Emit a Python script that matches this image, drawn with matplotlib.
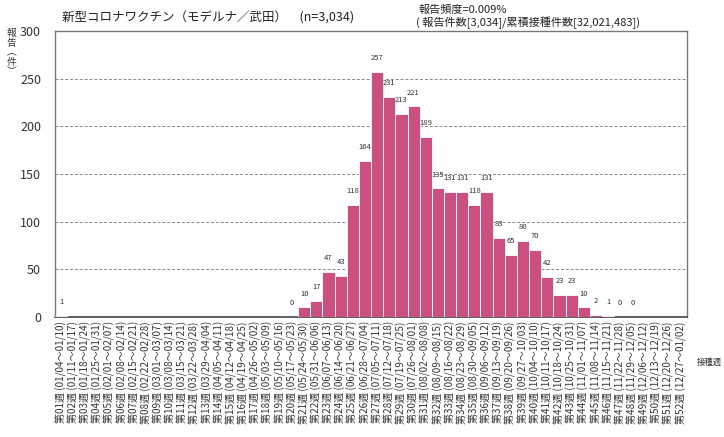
import numpy as np
import matplotlib
matplotlib.use("Agg")
import matplotlib.pyplot as plt

plt.rcParams['font.family'] = ['Noto Sans CJK JP', 'DejaVu Sans']

# ==========================================
# Data
# ==========================================
weeks = np.arange(1, 53)
# None = no reports shown for that week
counts = [1, None, None, None, None, None, None, None, None, None,
          None, None, None, None, None, None, None, None, None, 0,
          10, 17, 47, 43, 118, 164, 257, 231, 213, 221,
          189, 135, 131, 131, 118, 131, 83, 65, 80, 70,
          42, 23, 23, 10, 2, 1, 0, 0, None, None,
          None, None]
week_ranges = [
    "01/04～01/10", "01/11～01/17", "01/18～01/24", "01/25～01/31",
    "02/01～02/07", "02/08～02/14", "02/15～02/21", "02/22～02/28",
    "03/01～03/07", "03/08～03/14", "03/15～03/21", "03/22～03/28",
    "03/29～04/04", "04/05～04/11", "04/12～04/18", "04/19～04/25",
    "04/26～05/02", "05/03～05/09", "05/10～05/16", "05/17～05/23",
    "05/24～05/30", "05/31～06/06", "06/07～06/13", "06/14～06/20",
    "06/21～06/27", "06/28～07/04", "07/05～07/11", "07/12～07/18",
    "07/19～07/25", "07/26～08/01", "08/02～08/08", "08/09～08/15",
    "08/16～08/22", "08/23～08/29", "08/30～09/05", "09/06～09/12",
    "09/13～09/19", "09/20～09/26", "09/27～10/03", "10/04～10/10",
    "10/11～10/17", "10/18～10/24", "10/25～10/31", "11/01～11/07",
    "11/08～11/14", "11/15～11/21", "11/22～11/28", "11/29～12/05",
    "12/06～12/12", "12/13～12/19", "12/20～12/26", "12/27～01/02",
]
tick_labels = [f"第{w:02d}週 ({r})" for w, r in zip(weeks, week_ranges)]

TITLE = "新型コロナワクチン（モデルナ／武田）　(n=3,034)"
NOTE1 = "報告頻度=0.009%"
NOTE2 = "( 報告件数[3,034]/累積接種件数[32,021,483])"
YLABEL_CHARS = ["報", "告", "︵", "件", "︶"]
BAR_COLOR = "#CB4F7F"

# ==========================================
# Plot
# ==========================================
fig = plt.figure(figsize=(7.24, 4.37), dpi=100)
ax = fig.add_axes([0.076, 0.2746, 0.873, 0.654])

vals = np.array([np.nan if c is None else c for c in counts], dtype=float)
ax.bar(weeks, np.nan_to_num(vals), width=1.0, color=BAR_COLOR,
       edgecolor="white", linewidth=0.6, zorder=3)

for w, v in zip(weeks, vals):
    if np.isnan(v):
        continue
    ax.annotate(f"{int(v)}", (w, v), xytext=(0, 10), textcoords="offset points",
                ha="center", va="center", fontsize=5.5, color="#333333", zorder=4)

ax.set_xlim(0.5, 52.5)
ax.set_ylim(0, 300)
ax.set_yticks(np.arange(0, 301, 50))
ax.yaxis.grid(True, linestyle=(0, (3, 2)), color="#888888", linewidth=0.7, zorder=0)
ax.tick_params(axis="y", length=0, labelsize=9, colors="#333333", pad=10)
ax.set_xticks(weeks)
ax.set_xticklabels(tick_labels, rotation=90, fontsize=7.2, color="#333333")
ax.tick_params(axis="x", length=0, pad=3)

for side in ["left", "top", "right"]:
    ax.spines[side].set_color("#777777")
    ax.spines[side].set_linewidth(1.0)
ax.spines["bottom"].set_color("#444444")
ax.spines["bottom"].set_linewidth(1.2)

fig.text(0.085, 0.96, TITLE, fontsize=9, color="#222222", va="center")
fig.text(0.578, 0.978, NOTE1, fontsize=8, color="#222222", va="center")
fig.text(0.575, 0.947, NOTE2, fontsize=8, color="#222222", va="center")
for i, ch in enumerate(YLABEL_CHARS):
    fig.text(0.016, 0.924 - i * 0.022, ch, fontsize=7, color="#333333",
             ha="center", va="center")
fig.text(0.963, 0.17, "接種週", fontsize=6, color="#333333", va="center")

fig.savefig("out.png", dpi=100)
